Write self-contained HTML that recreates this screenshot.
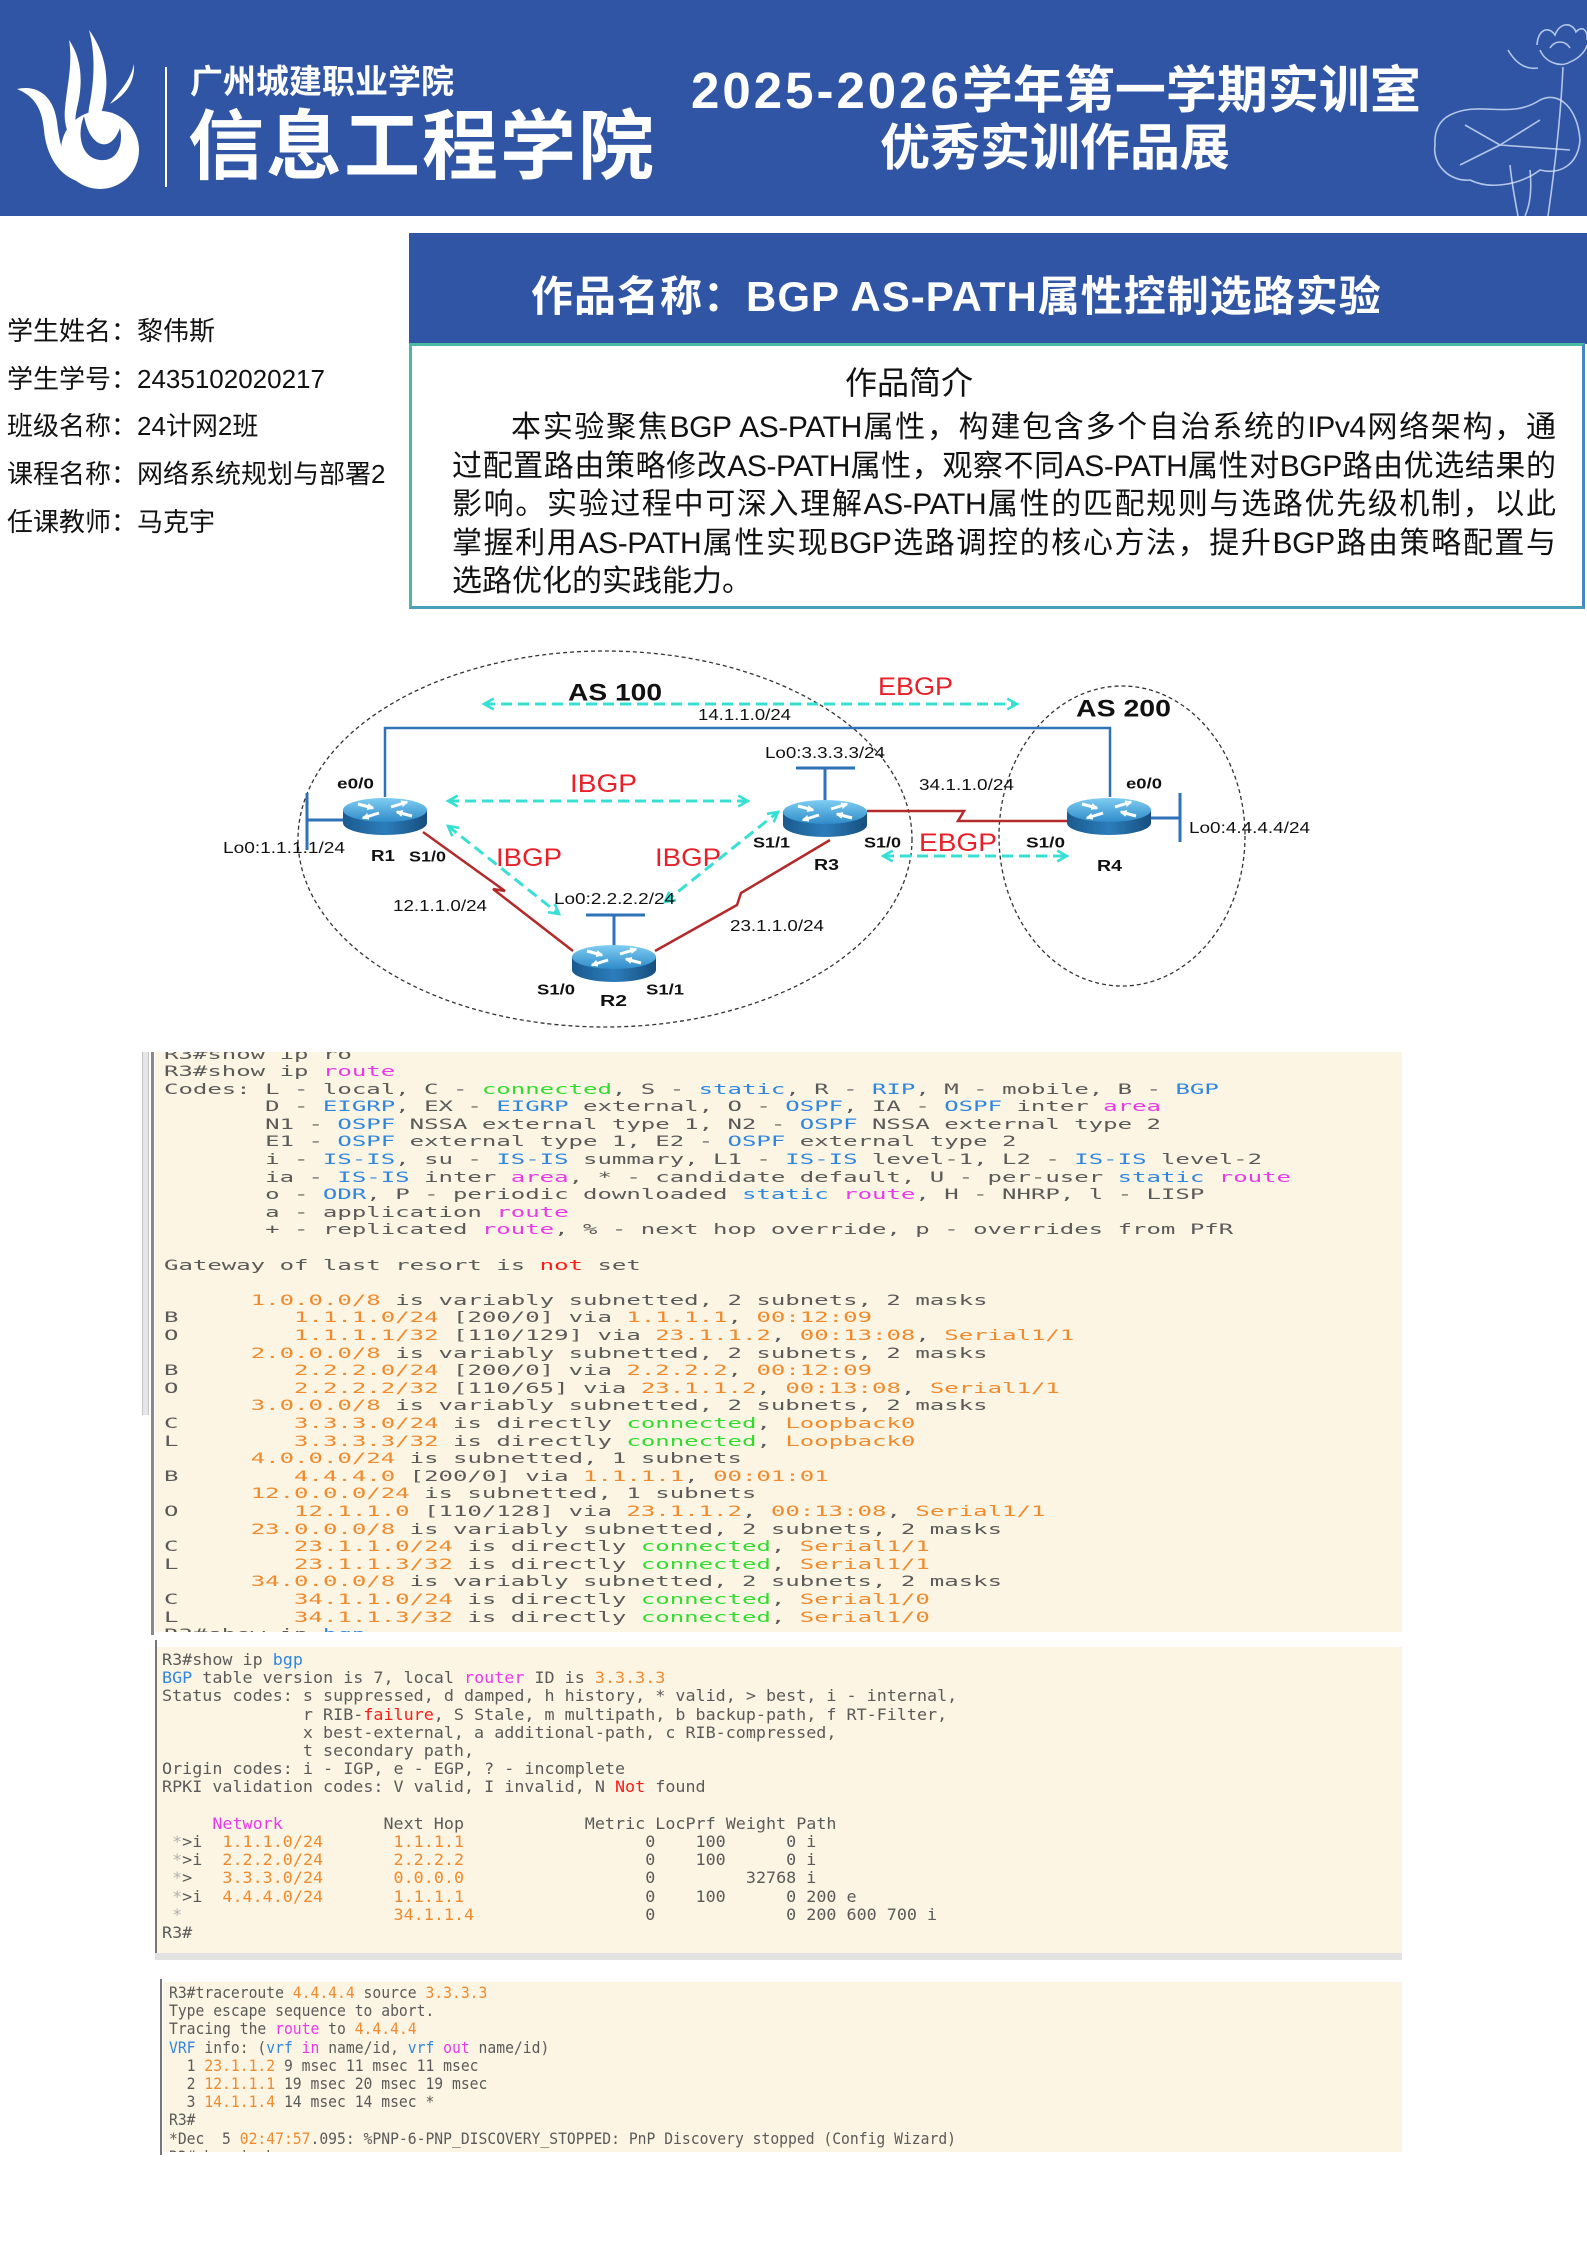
<!DOCTYPE html>
<html><head><meta charset="utf-8">
<style>
*{margin:0;padding:0;box-sizing:border-box}
html,body{width:1587px;height:2244px;background:#fff;overflow:hidden}
body{position:relative;font-family:"Liberation Sans","Noto Sans CJK SC",sans-serif;color:#111}
.abs{position:absolute}
.hd{color:#fff;font-weight:700;white-space:nowrap}
.info{position:absolute;left:7px;font-size:26px;line-height:26px;white-space:nowrap;color:#111}
.pl{height:38.5px;line-height:38.5px;font-size:30px;text-align:justify;text-align-last:justify;white-space:nowrap;overflow:visible}
.pl i{font-style:normal;letter-spacing:-0.4px}
pre{position:absolute;font-family:"DejaVu Sans Mono","Liberation Mono",monospace;white-space:pre;color:#5a5a5a;transform-origin:0 0}
.o{color:#f08a2c}.g{color:#2fdc2f}.b{color:#2f86e0}.m{color:#e83ae8}.r{color:#ff1a1a}.lg{color:#b0b0b0}
</style></head>
<body>

<!-- HEADER -->
<div class="abs" style="left:0;top:0;width:1587px;height:216px;background:#2f55a4"></div>
<svg class="abs" style="left:0;top:0" width="170" height="216">
 <g fill="#fff">
  <path d="M17,89 C38,84 54,97 57,122 C60,148 66,168 80,182 C58,176 46,154 44,130 C42,108 34,96 17,89 Z"/>
  <path d="M69,40 C84,62 82,88 77,108 C73,126 76,140 86,146 C70,144 63,128 65,108 C67,86 73,64 69,40 Z"/>
  <path d="M89,30 C108,56 110,86 102,110 C97,124 100,134 110,133 C94,142 86,126 89,108 C94,82 96,56 89,30 Z"/>
  <path d="M134,64 C130,82 120,90 110,104 C124,96 135,84 134,64 Z"/>
  <circle cx="100" cy="150" r="39"/>
 </g>
 <path d="M84,116 C76,136 82,158 100,160 C116,162 124,146 120,128 C115,142 106,148 97,142 C89,136 86,126 84,116 Z" fill="#2f55a4"/>
 <rect x="165" y="67" width="2" height="120" fill="#fff"/>
</svg>
<div class="abs hd" style="left:190px;top:65px;font-size:33px;line-height:34px">广州城建职业学院</div>
<div class="abs hd" style="left:188px;top:110px;font-size:76px;line-height:76px;letter-spacing:2px">信息工程学院</div>
<div class="abs hd" style="left:691px;top:65px;font-size:51px;line-height:52px"><span style="letter-spacing:3px">2025-2026</span>学年第一学期实训室</div>
<div class="abs hd" style="left:880px;top:122px;font-size:50px;line-height:52px">优秀实训作品展</div>
<svg class="abs" style="left:1420px;top:0" width="167" height="216">
 <g fill="none" stroke="rgba(225,235,255,0.75)" stroke-width="1.6">
  <path d="M117,45 C118,30 128,25 135,35 C140,22 152,22 156,32 C162,25 168,30 167,40"/>
  <path d="M120,50 C125,62 140,68 150,62 C160,58 166,50 167,45"/>
  <path d="M130,48 C135,40 145,40 150,48"/>
  <path d="M88,50 C95,62 105,70 118,68"/>
  <path d="M143,67 C141,110 136,160 128,216"/>
  <path d="M30,115 C60,100 90,120 120,100 C140,90 158,110 160,140 C158,165 140,175 120,170 C100,185 70,190 50,180 C30,182 12,165 15,145 C14,130 20,120 30,115 Z"/>
  <path d="M80,145 L120,120 M80,145 L150,150 M80,145 L40,165 M80,145 L45,125"/>
  <path d="M90,165 C92,185 95,200 98,216"/>
  <path d="M110,170 C112,190 110,205 105,216"/>
 </g>
</svg>

<!-- STUDENT INFO -->
<div class="info" style="top:318px">学生姓名：黎伟斯</div>
<div class="info" style="top:366px">学生学号：2435102020217</div>
<div class="info" style="top:413px">班级名称：24计网2班</div>
<div class="info" style="top:461px">课程名称：网络系统规划与部署2</div>
<div class="info" style="top:509px">任课教师：马克宇</div>

<!-- TITLE BOX -->
<div class="abs" style="left:409px;top:233px;width:1178px;height:111px;background:#2f55a4"></div>
<div class="abs hd" style="left:531px;top:275px;font-size:42px;line-height:44px;letter-spacing:1px">作品名称：BGP AS-PATH属性控制选路实验</div>
<div class="abs" style="left:409px;top:343px;width:1176px;height:266px;border:3px solid #4a9fb8;border-top-color:#48b9a3;border-left-color:#48b9a3;border-right-color:#4a86c5"></div>
<div class="abs" style="left:845px;top:367px;font-size:32px;line-height:32px;white-space:nowrap">作品简介</div>
<div class="abs" style="left:452px;top:409px;width:1104px">
 <div class="pl" style="padding-left:59px">本实验聚焦<i>BGP AS-PATH</i>属性，构建包含多个自治系统的<i>IPv4</i>网络架构，通</div>
 <div class="pl">过配置路由策略修改<i>AS-PATH</i>属性，观察不同<i>AS-PATH</i>属性对<i>BGP</i>路由优选结果的</div>
 <div class="pl">影响。实验过程中可深入理解<i>AS-PATH</i>属性的匹配规则与选路优先级机制，以此</div>
 <div class="pl">掌握利用<i>AS-PATH</i>属性实现<i>BGP</i>选路调控的核心方法，提升<i>BGP</i>路由策略配置与</div>
 <div class="pl" style="text-align:left;text-align-last:left">选路优化的实践能力。</div>
</div>

<!-- DIAGRAM -->
<svg class="abs" style="left:0;top:620px" width="1587" height="420" viewBox="0 620 1587 420" font-family="Liberation Sans, Arial, sans-serif">
 <defs>
  <linearGradient id="tp" x1="0" y1="0" x2="0" y2="1"><stop offset="0" stop-color="#7fcdf2"/><stop offset="1" stop-color="#2f8bc9"/></linearGradient>
  <linearGradient id="sd" x1="0" y1="0" x2="1" y2="0"><stop offset="0" stop-color="#1a5a8e"/><stop offset="0.5" stop-color="#2c7dbb"/><stop offset="1" stop-color="#164e7e"/></linearGradient>
  <marker id="ah" viewBox="0 0 12 12" refX="10" refY="6" markerWidth="13" markerHeight="13" markerUnits="userSpaceOnUse" orient="auto-start-reverse"><path d="M1,1 L10,6 L1,11" fill="none" stroke="#38e0d4" stroke-width="2.4"/></marker>
  <marker id="wa" viewBox="0 0 10 10" refX="8" refY="5" markerWidth="7" markerHeight="7" markerUnits="userSpaceOnUse" orient="auto"><path d="M0,0 L10,5 L0,10 Z" fill="#fff"/></marker>
  <g id="rt">
   <path d="M-42,12 L-42,25 A42,12 0 0 0 42,25 L42,12 Z" fill="url(#sd)"/>
   <ellipse cx="0" cy="12" rx="42" ry="12" fill="url(#tp)"/>
   <g stroke="#fff" stroke-width="3" fill="none">
    <path d="M-27,6 L-12,10" marker-end="url(#wa)"/>
    <path d="M27,18 L12,14" marker-end="url(#wa)"/>
    <path d="M6,9 L22,4" marker-end="url(#wa)"/>
    <path d="M-6,15 L-22,20" marker-end="url(#wa)"/>
   </g>
  </g>
 </defs>

 <ellipse cx="605" cy="839" rx="307" ry="188" fill="none" stroke="#333" stroke-width="1.3" stroke-dasharray="4 3"/>
 <ellipse cx="1122" cy="836" rx="123" ry="150" fill="none" stroke="#333" stroke-width="1.3" stroke-dasharray="4 3"/>

 <polyline points="385,797 385,728 1110,728 1110,797" fill="none" stroke="#2e72b8" stroke-width="2.5"/>
 <polyline points="423,832 505,891 493,889 573,951" fill="none" stroke="#b32a2a" stroke-width="2.5"/>
 <polyline points="655,951 737,905 741,893 830,840" fill="none" stroke="#b32a2a" stroke-width="2.5"/>
 <polyline points="867,811 964,811 958,821 1067,821" fill="none" stroke="#b32a2a" stroke-width="2.5"/>

 <g stroke="#2e72b8" stroke-width="3" fill="none">
  <path d="M307,793 L307,850 M307,820 L343,820"/>
  <path d="M586,915 L645,915 M614,915 L614,945"/>
  <path d="M796,768 L855,768 M825,768 L825,800"/>
  <path d="M1151,818 L1180,818 M1180,793 L1180,842"/>
 </g>

 <use href="#rt" x="385" y="798"/>
 <use href="#rt" x="614" y="945"/>
 <use href="#rt" x="825" y="800"/>
 <use href="#rt" x="1109" y="798"/>

 <g stroke="#38e0d4" stroke-width="3" stroke-dasharray="11 6" fill="none" marker-start="url(#ah)" marker-end="url(#ah)">
  <line x1="484" y1="704" x2="1017" y2="704"/>
  <line x1="448" y1="801" x2="748" y2="801"/>
  <line x1="448" y1="826" x2="559" y2="914"/>
  <line x1="665" y1="902" x2="778" y2="812"/>
  <line x1="883" y1="856" x2="1067" y2="856"/>
 </g>

 <g fill="#111">
  <text x="568" y="700.6" font-size="24" font-weight="700" textLength="94" lengthAdjust="spacingAndGlyphs">AS 100</text>
  <text x="1076" y="716.6" font-size="24" font-weight="700" textLength="95" lengthAdjust="spacingAndGlyphs">AS 200</text>
  <text x="698" y="719.8" font-size="16" textLength="93" lengthAdjust="spacingAndGlyphs">14.1.1.0/24</text>
  <text x="765" y="757.8" font-size="16" textLength="120" lengthAdjust="spacingAndGlyphs">Lo0:3.3.3.3/24</text>
  <text x="337" y="788.4" font-size="15" font-weight="700" textLength="37" lengthAdjust="spacingAndGlyphs">e0/0</text>
  <text x="919" y="789.8" font-size="16" textLength="95" lengthAdjust="spacingAndGlyphs">34.1.1.0/24</text>
  <text x="1126" y="788.4" font-size="15" font-weight="700" textLength="36" lengthAdjust="spacingAndGlyphs">e0/0</text>
  <text x="1189" y="832.8" font-size="16" textLength="121" lengthAdjust="spacingAndGlyphs">Lo0:4.4.4.4/24</text>
  <text x="223" y="852.8" font-size="16" textLength="122" lengthAdjust="spacingAndGlyphs">Lo0:1.1.1.1/24</text>
  <text x="753" y="847.4" font-size="15" font-weight="700" textLength="37" lengthAdjust="spacingAndGlyphs">S1/1</text>
  <text x="864" y="847.4" font-size="15" font-weight="700" textLength="37" lengthAdjust="spacingAndGlyphs">S1/0</text>
  <text x="1026" y="847.4" font-size="15" font-weight="700" textLength="39" lengthAdjust="spacingAndGlyphs">S1/0</text>
  <text x="371" y="860.8" font-size="16" font-weight="700" textLength="24" lengthAdjust="spacingAndGlyphs">R1</text>
  <text x="409" y="861.4" font-size="15" font-weight="700" textLength="37" lengthAdjust="spacingAndGlyphs">S1/0</text>
  <text x="814" y="869.8" font-size="16" font-weight="700" textLength="25" lengthAdjust="spacingAndGlyphs">R3</text>
  <text x="1097" y="870.8" font-size="16" font-weight="700" textLength="25" lengthAdjust="spacingAndGlyphs">R4</text>
  <text x="554" y="903.8" font-size="16" textLength="121" lengthAdjust="spacingAndGlyphs">Lo0:2.2.2.2/24</text>
  <text x="393" y="910.8" font-size="16" textLength="94" lengthAdjust="spacingAndGlyphs">12.1.1.0/24</text>
  <text x="730" y="930.8" font-size="16" textLength="94" lengthAdjust="spacingAndGlyphs">23.1.1.0/24</text>
  <text x="537" y="994.4" font-size="15" font-weight="700" textLength="38" lengthAdjust="spacingAndGlyphs">S1/0</text>
  <text x="646" y="994.4" font-size="15" font-weight="700" textLength="38" lengthAdjust="spacingAndGlyphs">S1/1</text>
  <text x="600" y="1005.8" font-size="16" font-weight="700" textLength="27" lengthAdjust="spacingAndGlyphs">R2</text>
 </g>
 <g fill="#e8202a" font-size="25">
  <text x="878" y="695" textLength="75" lengthAdjust="spacingAndGlyphs">EBGP</text>
  <text x="570" y="792" textLength="67" lengthAdjust="spacingAndGlyphs">IBGP</text>
  <text x="919" y="851" textLength="78" lengthAdjust="spacingAndGlyphs">EBGP</text>
  <text x="496" y="866" textLength="66" lengthAdjust="spacingAndGlyphs">IBGP</text>
  <text x="655" y="866" textLength="66" lengthAdjust="spacingAndGlyphs">IBGP</text>
 </g>
</svg>

<!-- SCREENSHOT 1 -->
<div class="abs" style="left:142px;top:1052px;width:7px;height:363px;background:#e6e6e6;border-left:1px solid #c4c4c4;border-right:1px solid #c4c4c4"></div>
<div class="abs" style="left:151px;top:1052px;width:3px;height:583px;background:#8a8a8a"></div>
<div class="abs" style="left:155px;top:1052px;width:1247px;height:580px;background:#fdf5e3;overflow:hidden">
<pre style="left:9px;top:-5.5px;font-size:14.5px;line-height:17.6px;transform:scaleX(1.655)">R3#show ip ro
R3#show ip <span class="m">route</span>
Codes: L - local, C - <span class="g">connected</span>, S - <span class="b">static</span>, R - <span class="b">RIP</span>, M - mobile, B - <span class="b">BGP</span>
       D - <span class="b">EIGRP</span>, EX - <span class="b">EIGRP</span> external, O - <span class="b">OSPF</span>, IA - <span class="b">OSPF</span> inter <span class="m">area</span>
       N1 - <span class="b">OSPF</span> NSSA external type 1, N2 - <span class="b">OSPF</span> NSSA external type 2
       E1 - <span class="b">OSPF</span> external type 1, E2 - <span class="b">OSPF</span> external type 2
       i - <span class="b">IS-IS</span>, su - <span class="b">IS-IS</span> summary, L1 - <span class="b">IS-IS</span> level-1, L2 - <span class="b">IS-IS</span> level-2
       ia - <span class="b">IS-IS</span> inter <span class="m">area</span>, * - candidate default, U - per-user <span class="b">static</span> <span class="m">route</span>
       o - <span class="b">ODR</span>, P - periodic downloaded <span class="b">static</span> <span class="m">route</span>, H - NHRP, l - LISP
       a - application <span class="m">route</span>
       + - replicated <span class="m">route</span>, % - next hop override, p - overrides from PfR

Gateway of last resort is <span class="r">not</span> set

      <span class="o">1.0.0.0/8</span> is variably subnetted, 2 subnets, 2 masks
B        <span class="o">1.1.1.0/24</span> [200/0] via <span class="o">1.1.1.1</span>, <span class="o">00:12:09</span>
O        <span class="o">1.1.1.1/32</span> [110/129] via <span class="o">23.1.1.2</span>, <span class="o">00:13:08</span>, <span class="o">Serial1/1</span>
      <span class="o">2.0.0.0/8</span> is variably subnetted, 2 subnets, 2 masks
B        <span class="o">2.2.2.0/24</span> [200/0] via <span class="o">2.2.2.2</span>, <span class="o">00:12:09</span>
O        <span class="o">2.2.2.2/32</span> [110/65] via <span class="o">23.1.1.2</span>, <span class="o">00:13:08</span>, <span class="o">Serial1/1</span>
      <span class="o">3.0.0.0/8</span> is variably subnetted, 2 subnets, 2 masks
C        <span class="o">3.3.3.0/24</span> is directly <span class="g">connected</span>, <span class="o">Loopback0</span>
L        <span class="o">3.3.3.3/32</span> is directly <span class="g">connected</span>, <span class="o">Loopback0</span>
      <span class="o">4.0.0.0/24</span> is subnetted, 1 subnets
B        <span class="o">4.4.4.0</span> [200/0] via <span class="o">1.1.1.1</span>, <span class="o">00:01:01</span>
      <span class="o">12.0.0.0/24</span> is subnetted, 1 subnets
O        <span class="o">12.1.1.0</span> [110/128] via <span class="o">23.1.1.2</span>, <span class="o">00:13:08</span>, <span class="o">Serial1/1</span>
      <span class="o">23.0.0.0/8</span> is variably subnetted, 2 subnets, 2 masks
C        <span class="o">23.1.1.0/24</span> is directly <span class="g">connected</span>, <span class="o">Serial1/1</span>
L        <span class="o">23.1.1.3/32</span> is directly <span class="g">connected</span>, <span class="o">Serial1/1</span>
      <span class="o">34.0.0.0/8</span> is variably subnetted, 2 subnets, 2 masks
C        <span class="o">34.1.1.0/24</span> is directly <span class="g">connected</span>, <span class="o">Serial1/0</span>
L        <span class="o">34.1.1.3/32</span> is directly <span class="g">connected</span>, <span class="o">Serial1/0</span>
R3#show ip <span class="b">bgp</span></pre>
</div>

<!-- SCREENSHOT 2 -->
<div class="abs" style="left:155px;top:1640px;width:2px;height:313px;background:#777"></div>
<div class="abs" style="left:157px;top:1647px;width:1245px;height:306px;background:#fdf5e3;overflow:hidden">
<pre style="left:5px;top:4px;font-size:16px;line-height:18.2px;transform:scaleX(1.045)">R3#show ip <span class="b">bgp</span>
<span class="b">BGP</span> table version is 7, local <span class="m">router</span> ID is <span class="o">3.3.3.3</span>
Status codes: s suppressed, d damped, h history, * valid, &gt; best, i - internal,
              r RIB-<span class="r">failure</span>, S Stale, m multipath, b backup-path, f RT-Filter,
              x best-external, a additional-path, c RIB-compressed,
              t secondary path,
Origin codes: i - IGP, e - EGP, ? - incomplete
RPKI validation codes: V valid, I invalid, N <span class="r">Not</span> found

     <span class="m">Network</span>          Next Hop            Metric LocPrf Weight Path
 <span class="lg">*</span>&gt;i  <span class="o">1.1.1.0/24</span>       <span class="o">1.1.1.1</span>                  0    100      0 i
 <span class="lg">*</span>&gt;i  <span class="o">2.2.2.0/24</span>       <span class="o">2.2.2.2</span>                  0    100      0 i
 <span class="lg">*</span>&gt;   <span class="o">3.3.3.0/24</span>       <span class="o">0.0.0.0</span>                  0         32768 i
 <span class="lg">*</span>&gt;i  <span class="o">4.4.4.0/24</span>       <span class="o">1.1.1.1</span>                  0    100      0 200 e
 <span class="lg">*</span>                     <span class="o">34.1.1.4</span>                 0             0 200 600 700 i
R3#</pre>
</div>
<div class="abs" style="left:155px;top:1953px;width:1247px;height:7px;background:#e2e2e2"></div>

<!-- SCREENSHOT 3 -->
<div class="abs" style="left:160px;top:1979px;width:2px;height:176px;background:#777"></div>
<div class="abs" style="left:163px;top:1982px;width:1239px;height:170px;background:#fdf5e3;overflow:hidden">
<pre style="left:6px;top:2px;font-size:16px;line-height:18.2px;transform:scaleX(0.918)">R3#traceroute <span class="o">4.4.4.4</span> source <span class="o">3.3.3.3</span>
Type escape sequence to abort.
Tracing the <span class="m">route</span> to <span class="o">4.4.4.4</span>
<span class="b">VRF</span> info: (<span class="b">vrf</span> <span class="m">in</span> name/id, <span class="b">vrf</span> <span class="m">out</span> name/id)
  1 <span class="o">23.1.1.2</span> 9 msec 11 msec 11 msec
  2 <span class="o">12.1.1.1</span> 19 msec 20 msec 19 msec
  3 <span class="o">14.1.1.4</span> 14 msec 14 msec *
R3#
*Dec  5 <span class="o">02:47:57</span>.095: %PNP-6-PNP_DISCOVERY_STOPPED: PnP Discovery stopped (Config Wizard)
R3#show ip bgp</pre>
</div>

</body></html>
